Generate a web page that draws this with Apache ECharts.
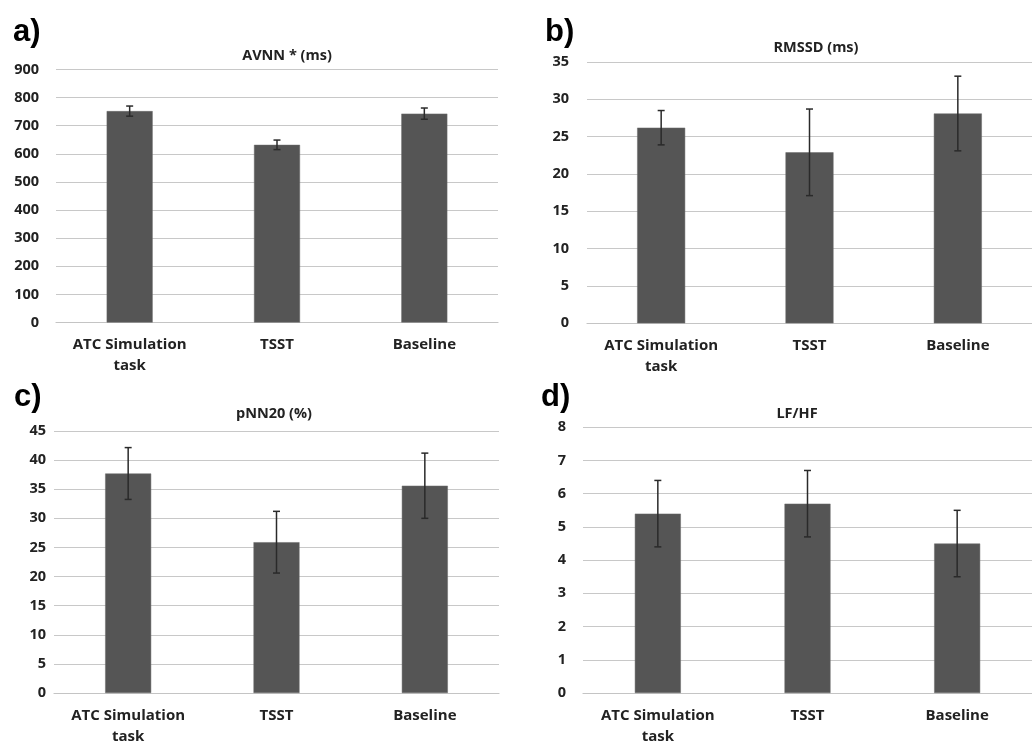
<!DOCTYPE html>
<html><head><meta charset="utf-8">
<script src="https://cdn.jsdelivr.net/npm/echarts@6/dist/echarts.min.js"></script>
<style>html,body{margin:0;padding:0;background:#fff}#c{width:1032px;height:747px}</style>
</head><body><div id="c"></div>
<script>
const categories = ['ATC Simulation\ntask', 'TSST', 'Baseline'];
const panelLetters = ['a)', 'b)', 'c)', 'd)'];
const panelTitles = ['AVNN * (ms)', 'RMSSD (ms)', 'pNN20 (%)', 'LF/HF'];
const avnnMean = [752, 632, 743];
const avnnErr = [18, 17, 20];
const rmssdMean = [26.2, 22.9, 28.1];
const rmssdErr = [2.3, 5.8, 5.0];
const pnn20Mean = [37.7, 25.9, 35.6];
const pnn20Err = [4.45, 5.3, 5.6];
const lfhfMean = [5.4, 5.7, 4.5];
const lfhfErr = [1.0, 1.0, 1.0];
const yMax = [900, 35, 45, 8];
const yStep = [100, 5, 5, 1];

const means = [avnnMean, rmssdMean, pnn20Mean, lfhfMean];
const errs = [avnnErr, rmssdErr, pnn20Err, lfhfErr];

const grids = [
  {left: 56, top: 69.5, width: 442, height: 253},
  {left: 587, top: 62, width: 457, height: 261.3},
  {left: 54, top: 431, width: 445, height: 263.7},
  {left: 583, top: 427.3, width: 450, height: 267}
];
const yLabelMargin = [17, 18, 8, 17];
const barWidths = [46, 48, 46, 46];
const titlePos = [[282, 51], [811, 43], [269, 409], [792, 409]];
const letterPos = [[8, 12], [540, 12], [9, 377], [536, 377]];

const font = '"Open Sans", "DejaVu Sans", sans-serif';
const option = {
  backgroundColor: '#fff',
  animation: false,
  title: [],
  grid: grids,
  xAxis: [], yAxis: [], series: []
};
for (let i = 0; i < 4; i++) {
  option.title.push({
    text: panelTitles[i], left: titlePos[i][0], top: titlePos[i][1],
    textAlign: 'center', textVerticalAlign: 'middle',
    textStyle: {fontFamily: font, fontWeight: 'bold', fontSize: 14.5, color: '#222'}
  });
  option.title.push({
    text: panelLetters[i], left: letterPos[i][0], top: letterPos[i][1],
    textStyle: {fontFamily: '"Liberation Sans", Arial, sans-serif', fontWeight: 'bold', fontSize: 31, color: '#000'}
  });
  option.xAxis.push({
    type: 'category', gridIndex: i, data: categories,
    axisTick: {show: false},
    axisLine: {lineStyle: {color: '#c4c4c4', width: 1.2}},
    axisLabel: {fontFamily: font, fontWeight: 'bold', fontSize: 15, color: '#222', margin: 12, lineHeight: 21, interval: 0}
  });
  option.yAxis.push({
    type: 'value', gridIndex: i, min: 0, max: yMax[i], interval: yStep[i],
    axisLine: {show: false}, axisTick: {show: false},
    splitLine: {lineStyle: {color: '#c8c8c8', width: 1}},
    axisLabel: {fontFamily: font, fontWeight: 'bold', fontSize: 14.5, color: '#222', margin: yLabelMargin[i]}
  });
  option.series.push({
    type: 'bar', xAxisIndex: i, yAxisIndex: i, data: means[i],
    barWidth: barWidths[i],
    itemStyle: {color: '#555555', borderColor: '#6a6a6a', borderWidth: 0.5}
  });
  const m = means[i], e = errs[i];
  option.series.push({
    type: 'custom', xAxisIndex: i, yAxisIndex: i, z: 5,
    data: m.map((v, k) => [k, v - e[k], v + e[k]]),
    renderItem: function (params, api) {
      const lo = api.coord([api.value(0), api.value(1)]);
      const hi = api.coord([api.value(0), api.value(2)]);
      const w = 3.5;
      const st = {stroke: '#2a2a2a', lineWidth: 1.5};
      return {type: 'group', children: [
        {type: 'line', shape: {x1: lo[0], y1: lo[1], x2: hi[0], y2: hi[1]}, style: st},
        {type: 'line', shape: {x1: lo[0] - w, y1: lo[1], x2: lo[0] + w, y2: lo[1]}, style: st},
        {type: 'line', shape: {x1: hi[0] - w, y1: hi[1], x2: hi[0] + w, y2: hi[1]}, style: st}
      ]};
    }
  });
}
echarts.init(document.getElementById('c'), null, {renderer: 'canvas'}).setOption(option);
</script></body></html>
